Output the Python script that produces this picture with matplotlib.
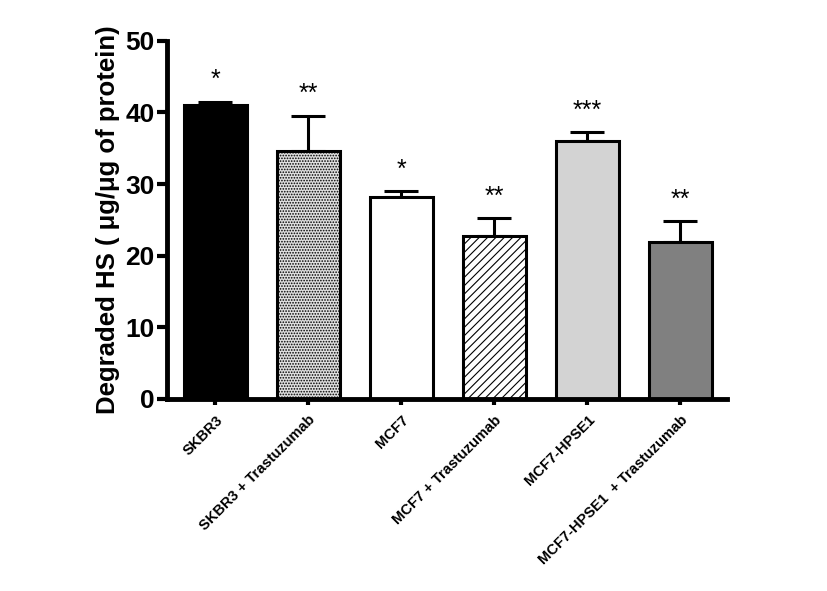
import matplotlib
matplotlib.use("Agg")
from matplotlib import pyplot as plt

labels = ["SKBR3", "SKBR3 + Trastuzumab", "MCF7", "MCF7 + Trastuzumab",
          "MCF7-HPSE1", "MCF7-HPSE1  + Trastuzumab"]
means = [41.0, 34.6, 28.2, 22.8, 36.0, 21.9]
sems = [0.5, 4.9, 0.8, 2.4, 1.2, 2.9]
stars = ["*", "**", "*", "**", "***", "**"]

colors = ["black", "#e0e0e0", "white", "white", "#d3d3d3", "#808080"]
hatches = [None, "......", None, "////", None, None]

plt.rcParams['font.family'] = ['Liberation Sans', 'DejaVu Sans']
plt.rcParams['font.weight'] = 'bold'
plt.rcParams['hatch.linewidth'] = 0.8

fig = plt.figure(figsize=(8.27, 5.91), dpi=100)
ax = fig.add_axes([0.202, 0.325, 0.677, 0.606])

x = list(range(len(means)))
for i in x:
    ax.bar(i, means[i], width=0.67, color=colors[i], edgecolor="black",
           linewidth=2.2, hatch=hatches[i], zorder=2)
ax.errorbar(x, means, yerr=[[0] * len(sems), sems], fmt="none", ecolor="black",
            elinewidth=2.2, capsize=12, capthick=2.2, zorder=1)
for i in x:
    ax.annotate(stars[i], (i, means[i] + sems[i]), xytext=(0, 7),
                textcoords="offset points", ha="center", va="bottom",
                fontsize=18, fontweight="normal")

ax.set_xlim(-0.52, 5.5)
ax.set_ylim(0, 50)
ax.set_yticks([0, 10, 20, 30, 40, 50])
ax.set_xticks(x)
ax.set_xticklabels(labels, rotation=45, ha="right", rotation_mode="anchor",
                   fontsize=10.5, fontweight="bold")
ax.tick_params(axis="y", labelsize=19, width=3, length=7, pad=2)
ax.tick_params(axis="x", width=3, length=4, pad=6)
for lab in ax.get_yticklabels():
    lab.set_fontweight("bold")
ax.spines["top"].set_visible(False)
ax.spines["right"].set_visible(False)
ax.spines["left"].set_linewidth(3.5)
ax.spines["bottom"].set_linewidth(3.5)
ax.set_ylabel("Degraded HS ( \u03bcg/\u03bcg of protein)", fontsize=18.5,
              fontweight="bold", labelpad=4)

fig.savefig("out.png", dpi=100)
